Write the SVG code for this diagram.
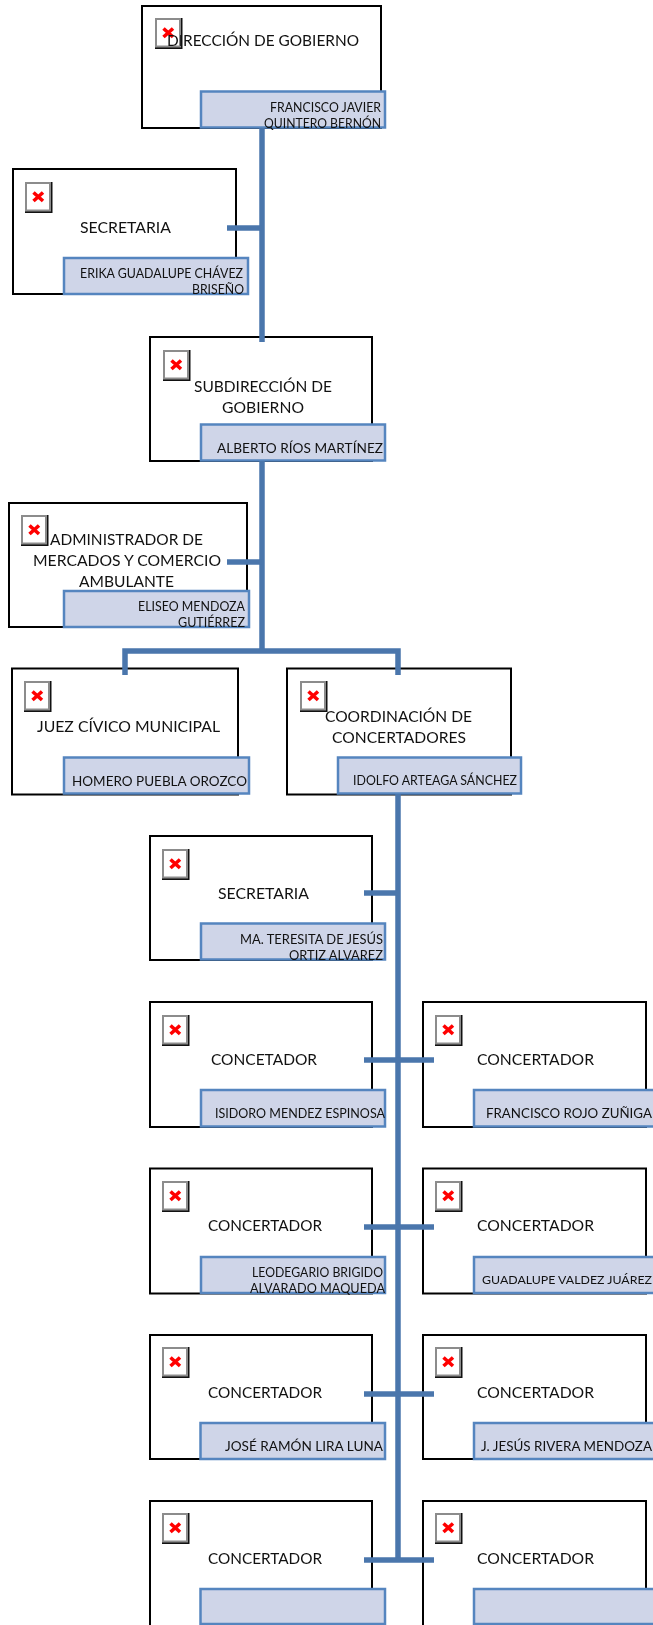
<svg xmlns="http://www.w3.org/2000/svg" width="653" height="1625" viewBox="0 0 653 1625">
<style>
.b{fill:#fff;stroke:#000;stroke-width:2}
.n{fill:#cfd5e8;stroke:#5585bf;stroke-width:2.5}
.c{fill:none;stroke:#4a76ac;stroke-width:5.5}
text{font-family:Lato,"Liberation Sans",sans-serif;fill:#111}
.t{font-size:16px}
.s{font-size:13px}
.x{font-size:12px}
</style>
<defs>
<g id="i">
<rect x="0" y="0" width="27.500" height="31" fill="#111"/>
<rect x="0" y="0" width="26" height="29.500" fill="#8c8c8c"/>
<rect x="2" y="2" width="22" height="25.500" fill="#fff"/>
<path d="M8.500 10.500L18 19M18 10.500L8.500 19" stroke="#f00" stroke-width="3.600" fill="none"/>
</g>
</defs>
<rect width="653" height="1625" fill="#fff"/>
<g id="diagram" style="filter:blur(0.4px)">
<g id="direccion"><rect class="b" x="142" y="6" width="239" height="122"/><rect class="n" x="201" y="91.500" width="184" height="36"/><use href="#i" x="155" y="18"/>
<text class="t" x="167" y="46" textLength="192" lengthAdjust="spacingAndGlyphs">DIRECCIÓN DE GOBIERNO</text>
<text class="s" x="270" y="112" textLength="111" lengthAdjust="spacingAndGlyphs">FRANCISCO JAVIER</text>
<text class="s" x="264" y="128" textLength="117" lengthAdjust="spacingAndGlyphs">QUINTERO BERNÓN</text></g>
<g id="secretaria1"><rect class="b" x="13" y="169" width="223" height="125"/><rect class="n" x="64" y="258" width="184" height="36"/><use href="#i" x="25" y="182"/>
<text class="t" x="80" y="233" textLength="91" lengthAdjust="spacingAndGlyphs">SECRETARIA</text>
<text class="s" x="80" y="278" textLength="163" lengthAdjust="spacingAndGlyphs">ERIKA GUADALUPE CHÁVEZ</text>
<text class="s" x="192" y="294" textLength="52" lengthAdjust="spacingAndGlyphs">BRISEÑO</text></g>
<g id="subdireccion"><rect class="b" x="150" y="337" width="222" height="124"/><rect class="n" x="201" y="424.500" width="184" height="36"/><use href="#i" x="163" y="350"/>
<text class="t" x="194" y="392" textLength="138" lengthAdjust="spacingAndGlyphs">SUBDIRECCIÓN DE</text>
<text class="t" x="222" y="413" textLength="82" lengthAdjust="spacingAndGlyphs">GOBIERNO</text>
<text class="s" x="217" y="453" textLength="166" lengthAdjust="spacingAndGlyphs">ALBERTO RÍOS MARTÍNEZ</text></g>
<g id="administrador"><rect class="b" x="9" y="503" width="238" height="124"/><rect class="n" x="64" y="591" width="185" height="36"/><use href="#i" x="21" y="515"/>
<text class="t" x="50" y="545" textLength="153" lengthAdjust="spacingAndGlyphs">ADMINISTRADOR DE</text>
<text class="t" x="33" y="566" textLength="188" lengthAdjust="spacingAndGlyphs">MERCADOS Y COMERCIO</text>
<text class="t" x="79" y="587" textLength="95" lengthAdjust="spacingAndGlyphs">AMBULANTE</text>
<text class="s" x="138" y="611" textLength="107" lengthAdjust="spacingAndGlyphs">ELISEO MENDOZA</text>
<text class="s" x="178" y="627" textLength="67" lengthAdjust="spacingAndGlyphs">GUTIÉRREZ</text></g>
<g id="juez"><rect class="b" x="12" y="668.500" width="226" height="126"/><rect class="n" x="64" y="757.500" width="185" height="36"/><use href="#i" x="24" y="681"/>
<text class="t" x="37" y="732" textLength="183" lengthAdjust="spacingAndGlyphs">JUEZ CÍVICO MUNICIPAL</text>
<text class="s" x="72" y="786" textLength="175" lengthAdjust="spacingAndGlyphs">HOMERO PUEBLA OROZCO</text></g>
<g id="coordinacion"><rect class="b" x="287" y="668.500" width="224" height="126"/><rect class="n" x="338" y="757.500" width="183" height="36"/><use href="#i" x="300" y="681"/>
<text class="t" x="325" y="722" textLength="147" lengthAdjust="spacingAndGlyphs">COORDINACIÓN DE</text>
<text class="t" x="332" y="743" textLength="134" lengthAdjust="spacingAndGlyphs">CONCERTADORES</text>
<text class="s" x="353" y="785" textLength="164" lengthAdjust="spacingAndGlyphs">IDOLFO ARTEAGA SÁNCHEZ</text></g>
<g id="secretaria2"><rect class="b" x="150" y="836" width="222" height="124"/><rect class="n" x="201" y="923.500" width="184" height="36"/><use href="#i" x="162" y="849"/>
<text class="t" x="218" y="899" textLength="91" lengthAdjust="spacingAndGlyphs">SECRETARIA</text>
<text class="s" x="240" y="944" textLength="143" lengthAdjust="spacingAndGlyphs">MA. TERESITA DE JESÚS</text>
<text class="s" x="289" y="960" textLength="94" lengthAdjust="spacingAndGlyphs">ORTIZ ALVAREZ</text></g>
<g id="concertador1"><rect class="b" x="150" y="1002" width="222" height="125"/><rect class="n" x="201" y="1090" width="184" height="36.500"/><use href="#i" x="162" y="1015"/>
<text class="t" x="211" y="1065" textLength="106" lengthAdjust="spacingAndGlyphs">CONCETADOR</text>
<text class="s" x="215" y="1118" textLength="170" lengthAdjust="spacingAndGlyphs">ISIDORO MENDEZ ESPINOSA</text></g>
<g id="concertador2"><rect class="b" x="423" y="1002" width="223" height="125"/><rect class="n" x="474" y="1090" width="184" height="36.500"/><use href="#i" x="435" y="1015"/>
<text class="t" x="477" y="1065" textLength="117" lengthAdjust="spacingAndGlyphs">CONCERTADOR</text>
<text class="s" x="486" y="1118" textLength="166" lengthAdjust="spacingAndGlyphs">FRANCISCO ROJO ZUÑIGA</text></g>
<g id="concertador3"><rect class="b" x="150" y="1168.500" width="222" height="125"/><rect class="n" x="201" y="1257" width="184" height="36"/><use href="#i" x="162" y="1181"/>
<text class="t" x="208" y="1231" textLength="114" lengthAdjust="spacingAndGlyphs">CONCERTADOR</text>
<text class="s" x="252" y="1277" textLength="131" lengthAdjust="spacingAndGlyphs">LEODEGARIO BRIGIDO</text>
<text class="s" x="250" y="1293" textLength="135" lengthAdjust="spacingAndGlyphs">ALVARADO MAQUEDA</text></g>
<g id="concertador4"><rect class="b" x="423" y="1168.500" width="223" height="125"/><rect class="n" x="474" y="1257" width="184" height="36"/><use href="#i" x="435" y="1181"/>
<text class="t" x="477" y="1231" textLength="117" lengthAdjust="spacingAndGlyphs">CONCERTADOR</text>
<text class="x" x="482" y="1284" textLength="170" lengthAdjust="spacingAndGlyphs">GUADALUPE VALDEZ JUÁREZ</text></g>
<g id="concertador5"><rect class="b" x="150" y="1335" width="222" height="124"/><rect class="n" x="200.500" y="1423" width="184.500" height="36"/><use href="#i" x="162" y="1347"/>
<text class="t" x="208" y="1398" textLength="114" lengthAdjust="spacingAndGlyphs">CONCERTADOR</text>
<text class="s" x="225" y="1451" textLength="158" lengthAdjust="spacingAndGlyphs">JOSÉ RAMÓN LIRA LUNA</text></g>
<g id="concertador6"><rect class="b" x="423" y="1335" width="223" height="124"/><rect class="n" x="474" y="1423" width="184" height="36"/><use href="#i" x="435" y="1347"/>
<text class="t" x="477" y="1398" textLength="117" lengthAdjust="spacingAndGlyphs">CONCERTADOR</text>
<text class="s" x="481" y="1451" textLength="171" lengthAdjust="spacingAndGlyphs">J. JESÚS RIVERA MENDOZA</text></g>
<g id="concertador7"><rect class="b" x="150" y="1501" width="222" height="125"/><rect class="n" x="200.500" y="1589" width="184.500" height="35"/><use href="#i" x="162" y="1513"/>
<text class="t" x="208" y="1564" textLength="114" lengthAdjust="spacingAndGlyphs">CONCERTADOR</text></g>
<g id="concertador8"><rect class="b" x="423" y="1501" width="223" height="125"/><rect class="n" x="474" y="1589" width="184" height="35"/><use href="#i" x="435" y="1513"/>
<text class="t" x="477" y="1564" textLength="117" lengthAdjust="spacingAndGlyphs">CONCERTADOR</text></g>
<g id="connectors" class="c">
<path d="M262 128V342"/>
<path d="M227 228H262"/>
<path d="M262 461V651"/>
<path d="M227 562H262"/>
<path d="M125 675V651H398V675"/>
<path d="M398 794V1562"/>
<path d="M364 893H398"/>
<path d="M364 1060H434"/>
<path d="M364 1227H434"/>
<path d="M364 1394H434"/>
<path d="M364 1560H434"/>
</g>
</g>
</svg>
